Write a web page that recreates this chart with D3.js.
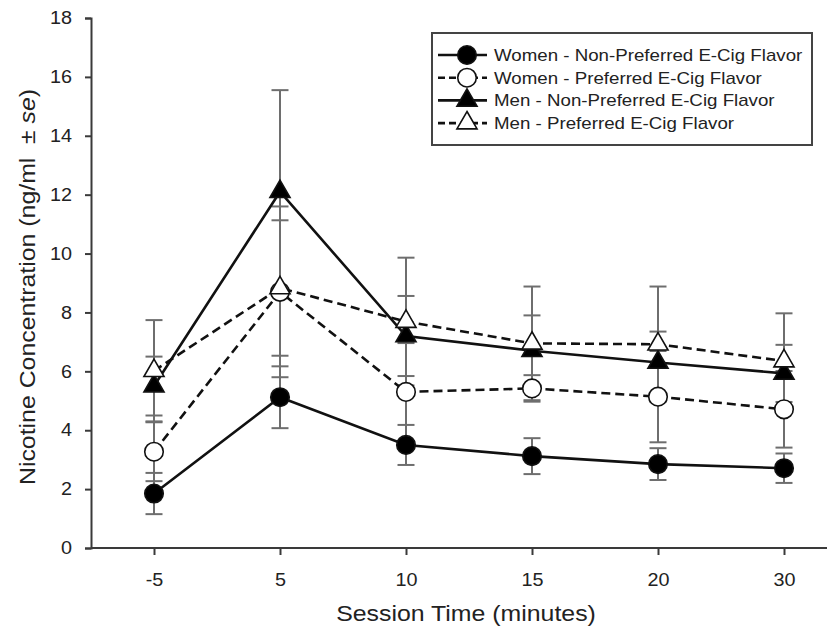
<!DOCTYPE html>
<html>
<head>
<meta charset="utf-8">
<script src="https://cdn.jsdelivr.net/npm/d3@7"></script>
<style>
  body { margin: 0; background: #fff; }
  text { font-family: "Liberation Sans", Arial, sans-serif; fill: #222; }
</style>
</head>
<body>
<div id="chart"></div>
<script>
//Data
const times = ["-5", "5", "10", "15", "20", "30"];
const womenNonPref = [1.85, 5.12, 3.5, 3.12, 2.85, 2.71];
const womenNonPrefSe = [0.7, 1.05, 0.68, 0.61, 0.54, 0.5];
const womenPref = [3.27, 8.7, 5.3, 5.42, 5.14, 4.71];
const womenPrefSe = [1.0, 2.9, 1.66, 0.45, 1.55, 1.3];
const menNonPref = [5.5, 12.1, 7.2, 6.7, 6.3, 5.93];
const menNonPrefSe = [1.0, 3.45, 1.36, 1.2, 1.05, 0.97];
const menPref = [6.02, 8.83, 7.69, 6.95, 6.92, 6.35];
const menPrefSe = [1.72, 2.3, 2.17, 1.93, 1.96, 1.62];
const yTicks = [0, 2, 4, 6, 8, 10, 12, 14, 16, 18];

const series = [
  { name: "Women - Non-Preferred E-Cig Flavor", values: womenNonPref, se: womenNonPrefSe, shape: "circle", filled: true, dashed: false },
  { name: "Women - Preferred E-Cig Flavor", values: womenPref, se: womenPrefSe, shape: "circle", filled: false, dashed: true },
  { name: "Men - Non-Preferred E-Cig Flavor", values: menNonPref, se: menNonPrefSe, shape: "triangle", filled: true, dashed: false },
  { name: "Men - Preferred E-Cig Flavor", values: menPref, se: menPrefSe, shape: "triangle", filled: false, dashed: true }
];

//Dimensions
const width = 827;
const height = 629;
const plotLeft = 91, plotRight = 827, plotTop = 18, plotBottom = 548;

const svg = d3.select("#chart").append("svg").attr("width", width).attr("height", height);

//the original text is a bit wider than Liberation Sans, stretch it
function stretch(sel, k) {
  sel.each(function () {
    const len = this.getComputedTextLength();
    d3.select(this).attr("textLength", len * k).attr("lengthAdjust", "spacingAndGlyphs");
  });
}

//Scales
const x = d3.scalePoint().domain(times).range([154, 784]);
const y = d3.scaleLinear().domain([0, 18]).range([plotBottom, plotTop]);

const axisColor = "#3a3a3a";

//x axis
const xAxis = svg.append("g").attr("transform", `translate(0, ${plotBottom})`)
  .call(d3.axisBottom(x).tickSizeOuter(0).tickSize(7).tickPadding(18));
xAxis.select(".domain").remove();
xAxis.selectAll(".tick line").attr("stroke", axisColor).attr("stroke-width", 2);
xAxis.selectAll(".tick text").style("font-size", "18px").attr("fill", "#222").call(stretch, 1.1);
svg.append("line").attr("x1", plotLeft).attr("x2", plotRight).attr("y1", plotBottom).attr("y2", plotBottom)
  .attr("stroke", axisColor).attr("stroke-width", 2);

//y axis
const yAxis = svg.append("g").attr("transform", `translate(${plotLeft}, 0)`)
  .call(d3.axisLeft(y).tickValues(yTicks).tickSizeOuter(0).tickSize(6).tickPadding(13));
yAxis.select(".domain").attr("stroke", axisColor).attr("stroke-width", 2);
yAxis.selectAll(".tick line").attr("stroke", axisColor).attr("stroke-width", 2);
yAxis.selectAll(".tick text").style("font-size", "18px").attr("fill", "#222").call(stretch, 1.1);

//Axis titles
svg.append("text").attr("transform", "translate(466, 621) scale(1.13, 1)").attr("text-anchor", "middle")
  .style("font-size", "22px").text("Session Time (minutes)");

const yTitle = svg.append("text").attr("transform", "translate(35, 287) rotate(-90) scale(1.13, 1)")
  .attr("text-anchor", "middle").style("font-size", "22px");
yTitle.append("tspan").text("Nicotine Concentration (ng/ml");
yTitle.append("tspan").attr("dx", 12).text("\u00b1 ");
yTitle.append("tspan").style("font-style", "italic").text("se");
yTitle.append("tspan").text(")");

//Error bars first
const errColor = "#6e6e6e";
const capW = 8.5;
series.forEach(s => {
  const g = svg.append("g");
  const pts = s.values.map((v, i) => ({ t: times[i], v: v, e: s.se[i] }));
  g.selectAll("line.bar").data(pts).enter().append("line")
    .attr("x1", d => x(d.t)).attr("x2", d => x(d.t))
    .attr("y1", d => y(d.v + d.e)).attr("y2", d => y(d.v - d.e))
    .attr("stroke", errColor).attr("stroke-width", 2);
  ["up", "down"].forEach(dir => {
    g.selectAll("line.cap-" + dir).data(pts).enter().append("line")
      .attr("x1", d => x(d.t) - capW).attr("x2", d => x(d.t) + capW)
      .attr("y1", d => y(dir === "up" ? d.v + d.e : d.v - d.e))
      .attr("y2", d => y(dir === "up" ? d.v + d.e : d.v - d.e))
      .attr("stroke", errColor).attr("stroke-width", 2);
  });
});

//Lines
const line = d3.line().x((d, i) => x(times[i])).y(d => y(d));
series.forEach(s => {
  svg.append("path").datum(s.values).attr("d", line)
    .attr("fill", "none").attr("stroke", "#111").attr("stroke-width", 2.6)
    .attr("stroke-dasharray", s.dashed ? "9,5" : null);
});

//Markers
const circleSym = d3.symbol().type(d3.symbolCircle).size(270);
const triSym = d3.symbol().type(d3.symbolTriangle).size(175);
function drawMarker(sel, s) {
  sel.attr("d", s.shape === "circle" ? circleSym() : triSym())
    .attr("fill", s.filled ? "#000" : "#fff")
    .attr("stroke", "#111").attr("stroke-width", 1.6);
}
series.forEach(s => {
  svg.append("g").selectAll("path").data(s.values).enter().append("path")
    .attr("transform", (d, i) => `translate(${x(times[i])}, ${y(d)})`)
    .call(sel => drawMarker(sel, s));
});

//Legend
const legend = svg.append("g").attr("transform", "translate(432, 33)");
legend.append("rect").attr("width", 380).attr("height", 112)
  .attr("fill", "#fff").attr("stroke", "#444").attr("stroke-width", 2);
series.forEach((s, i) => {
  const row = legend.append("g").attr("transform", `translate(0, ${22 + i * 22.7})`);
  row.append("line").attr("x1", 6).attr("x2", 55).attr("y1", 0).attr("y2", 0)
    .attr("stroke", "#111").attr("stroke-width", 2.6).attr("stroke-dasharray", s.dashed ? "7,4" : null);
  row.append("path").attr("transform", "translate(35, 0)").call(sel => drawMarker(sel, s));
  row.append("text").attr("x", 62).attr("y", 6).style("font-size", "17px").text(s.name).call(stretch, 1.1);
});
</script>
</body>
</html>
